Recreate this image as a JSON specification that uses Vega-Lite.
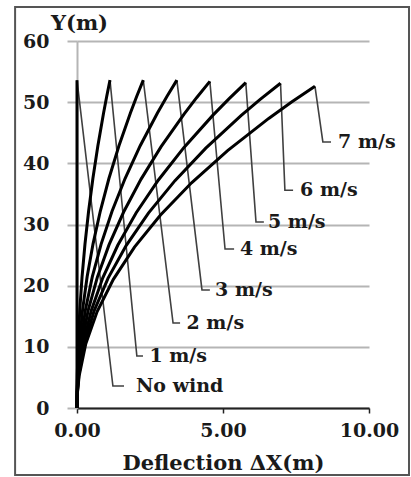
{
  "$schema": "https://vega.github.io/schema/vega-lite/v6.json",
  "width": 292,
  "height": 367,
  "autosize": {"type": "none"},
  "padding": {"left": 77, "top": 41, "right": 42, "bottom": 69},
  "background": "white",
  "config": {"view": {"stroke": null}},
  "datasets": {
    "curves": [
      {"s": "No wind", "x": 0, "y": 0}, {"s": "No wind", "x": 0, "y": 53.6},
      {"s": "1 m/s", "x": 0, "y": 0}, {"s": "1 m/s", "x": 0.002, "y": 2.68}, {"s": "1 m/s", "x": 0.010, "y": 5.36}, {"s": "1 m/s", "x": 0.042, "y": 10.72}, {"s": "1 m/s", "x": 0.096, "y": 16.08}, {"s": "1 m/s", "x": 0.173, "y": 21.44}, {"s": "1 m/s", "x": 0.273, "y": 26.8}, {"s": "1 m/s", "x": 0.397, "y": 32.16}, {"s": "1 m/s", "x": 0.544, "y": 37.52}, {"s": "1 m/s", "x": 0.715, "y": 42.88}, {"s": "1 m/s", "x": 0.910, "y": 48.24}, {"s": "1 m/s", "x": 1.017, "y": 50.92}, {"s": "1 m/s", "x": 1.13, "y": 53.6},
      {"s": "2 m/s", "x": 0, "y": 0}, {"s": "2 m/s", "x": 0.005, "y": 2.68}, {"s": "2 m/s", "x": 0.020, "y": 5.36}, {"s": "2 m/s", "x": 0.084, "y": 10.72}, {"s": "2 m/s", "x": 0.192, "y": 16.08}, {"s": "2 m/s", "x": 0.347, "y": 21.44}, {"s": "2 m/s", "x": 0.548, "y": 26.8}, {"s": "2 m/s", "x": 0.797, "y": 32.16}, {"s": "2 m/s", "x": 1.093, "y": 37.52}, {"s": "2 m/s", "x": 1.437, "y": 42.88}, {"s": "2 m/s", "x": 1.829, "y": 48.24}, {"s": "2 m/s", "x": 2.043, "y": 50.92}, {"s": "2 m/s", "x": 2.27, "y": 53.6},
      {"s": "3 m/s", "x": 0, "y": 0}, {"s": "3 m/s", "x": 0.007, "y": 2.68}, {"s": "3 m/s", "x": 0.030, "y": 5.36}, {"s": "3 m/s", "x": 0.126, "y": 10.72}, {"s": "3 m/s", "x": 0.290, "y": 16.08}, {"s": "3 m/s", "x": 0.523, "y": 21.44}, {"s": "3 m/s", "x": 0.826, "y": 26.8}, {"s": "3 m/s", "x": 1.200, "y": 32.16}, {"s": "3 m/s", "x": 1.646, "y": 37.52}, {"s": "3 m/s", "x": 2.165, "y": 42.88}, {"s": "3 m/s", "x": 2.755, "y": 48.24}, {"s": "3 m/s", "x": 3.079, "y": 50.92}, {"s": "3 m/s", "x": 3.42, "y": 53.6},
      {"s": "4 m/s", "x": 0, "y": 0}, {"s": "4 m/s", "x": 0.010, "y": 2.67}, {"s": "4 m/s", "x": 0.041, "y": 5.34}, {"s": "4 m/s", "x": 0.168, "y": 10.68}, {"s": "4 m/s", "x": 0.385, "y": 16.02}, {"s": "4 m/s", "x": 0.695, "y": 21.36}, {"s": "4 m/s", "x": 1.099, "y": 26.7}, {"s": "4 m/s", "x": 1.597, "y": 32.04}, {"s": "4 m/s", "x": 2.190, "y": 37.38}, {"s": "4 m/s", "x": 2.880, "y": 42.72}, {"s": "4 m/s", "x": 3.666, "y": 48.06}, {"s": "4 m/s", "x": 4.096, "y": 50.73}, {"s": "4 m/s", "x": 4.55, "y": 53.4},
      {"s": "5 m/s", "x": 0, "y": 0}, {"s": "5 m/s", "x": 0.012, "y": 2.66}, {"s": "5 m/s", "x": 0.052, "y": 5.32}, {"s": "5 m/s", "x": 0.213, "y": 10.64}, {"s": "5 m/s", "x": 0.490, "y": 15.96}, {"s": "5 m/s", "x": 0.883, "y": 21.28}, {"s": "5 m/s", "x": 1.396, "y": 26.6}, {"s": "5 m/s", "x": 2.028, "y": 31.92}, {"s": "5 m/s", "x": 2.782, "y": 37.24}, {"s": "5 m/s", "x": 3.658, "y": 42.56}, {"s": "5 m/s", "x": 4.657, "y": 47.88}, {"s": "5 m/s", "x": 5.203, "y": 50.54}, {"s": "5 m/s", "x": 5.78, "y": 53.2},
      {"s": "6 m/s", "x": 0, "y": 0}, {"s": "6 m/s", "x": 0.015, "y": 2.655}, {"s": "6 m/s", "x": 0.062, "y": 5.31}, {"s": "6 m/s", "x": 0.257, "y": 10.62}, {"s": "6 m/s", "x": 0.590, "y": 15.93}, {"s": "6 m/s", "x": 1.065, "y": 21.24}, {"s": "6 m/s", "x": 1.683, "y": 26.55}, {"s": "6 m/s", "x": 2.446, "y": 31.86}, {"s": "6 m/s", "x": 3.355, "y": 37.17}, {"s": "6 m/s", "x": 4.411, "y": 42.48}, {"s": "6 m/s", "x": 5.616, "y": 47.79}, {"s": "6 m/s", "x": 6.274, "y": 50.445}, {"s": "6 m/s", "x": 6.97, "y": 53.1},
      {"s": "7 m/s", "x": 0, "y": 0}, {"s": "7 m/s", "x": 0.018, "y": 2.63}, {"s": "7 m/s", "x": 0.073, "y": 5.26}, {"s": "7 m/s", "x": 0.301, "y": 10.52}, {"s": "7 m/s", "x": 0.690, "y": 15.78}, {"s": "7 m/s", "x": 1.245, "y": 21.04}, {"s": "7 m/s", "x": 1.968, "y": 26.3}, {"s": "7 m/s", "x": 2.860, "y": 31.56}, {"s": "7 m/s", "x": 3.923, "y": 36.82}, {"s": "7 m/s", "x": 5.158, "y": 42.08}, {"s": "7 m/s", "x": 6.566, "y": 47.34}, {"s": "7 m/s", "x": 7.337, "y": 49.97}, {"s": "7 m/s", "x": 8.15, "y": 52.6}
    ],
    "leaders": [
      {"s": "No wind", "x": 0, "y": 53.6}, {"s": "No wind", "x": 1.23, "y": 3.6}, {"s": "No wind", "x": 1.61, "y": 3.6},
      {"s": "1 m/s", "x": 1.13, "y": 53.6}, {"s": "1 m/s", "x": 2.05, "y": 8.5}, {"s": "1 m/s", "x": 2.26, "y": 8.5},
      {"s": "2 m/s", "x": 2.27, "y": 53.6}, {"s": "2 m/s", "x": 3.29, "y": 13.9}, {"s": "2 m/s", "x": 3.53, "y": 13.9},
      {"s": "3 m/s", "x": 3.42, "y": 53.6}, {"s": "3 m/s", "x": 4.28, "y": 19.3}, {"s": "3 m/s", "x": 4.55, "y": 19.3},
      {"s": "4 m/s", "x": 4.55, "y": 53.4}, {"s": "4 m/s", "x": 5.07, "y": 26.0}, {"s": "4 m/s", "x": 5.38, "y": 26.0},
      {"s": "5 m/s", "x": 5.78, "y": 53.2}, {"s": "5 m/s", "x": 6.13, "y": 30.4}, {"s": "5 m/s", "x": 6.40, "y": 30.4},
      {"s": "6 m/s", "x": 6.97, "y": 53.1}, {"s": "6 m/s", "x": 7.12, "y": 35.6}, {"s": "6 m/s", "x": 7.40, "y": 35.6},
      {"s": "7 m/s", "x": 8.15, "y": 52.6}, {"s": "7 m/s", "x": 8.42, "y": 43.5}, {"s": "7 m/s", "x": 8.70, "y": 43.5}
    ],
    "labels": [
      {"s": "No wind", "x": 2.02, "y": 3.6},
      {"s": "1 m/s", "x": 2.48, "y": 8.5},
      {"s": "2 m/s", "x": 3.75, "y": 13.9},
      {"s": "3 m/s", "x": 4.73, "y": 19.3},
      {"s": "4 m/s", "x": 5.58, "y": 26.0},
      {"s": "5 m/s", "x": 6.54, "y": 30.4},
      {"s": "6 m/s", "x": 7.64, "y": 35.6},
      {"s": "7 m/s", "x": 8.94, "y": 43.5}
    ],
    "frame": [{"name": "frame"}]
  },
  "layer": [
    {
      "data": {"name": "frame"},
      "mark": {"type": "rect", "filled": false, "stroke": "#555555", "strokeWidth": 2},
      "encoding": {
        "x": {"datum": -2.12, "type": "quantitative", "scale": {"domain": [0, 10]}},
        "x2": {"datum": 11.37},
        "y": {"datum": 65.55, "type": "quantitative", "scale": {"domain": [0, 60]}},
        "y2": {"datum": -10.95}
      }
    },
    {
      "data": {"name": "leaders"},
      "mark": {"type": "line", "color": "#404040", "strokeWidth": 1.6},
      "encoding": {
        "x": {"field": "x", "type": "quantitative"},
        "y": {"field": "y", "type": "quantitative"},
        "detail": {"field": "s"},
        "order": {"field": "x", "type": "quantitative"}
      }
    },
    {
      "data": {"name": "curves"},
      "mark": {"type": "line", "color": "black", "strokeWidth": 3},
      "encoding": {
        "x": {
          "field": "x", "type": "quantitative",
          "scale": {"domain": [0, 10], "nice": false, "zero": false},
          "axis": {
            "values": [0, 5, 10], "format": ".2f", "grid": false,
            "domainColor": "#222222", "domainWidth": 2,
            "tickColor": "#222222", "tickWidth": 1.5, "tickSize": 5,
            "labelFont": "DejaVu Serif", "labelFontWeight": "bold", "labelFontSize": 19, "labelColor": "#1a1a1a",
            "labelPadding": 8, "labelFlush": false, "labelOverlap": false, "labelBound": false,
            "title": "Deflection ΔX(m)", "titleFont": "DejaVu Serif", "titleFontWeight": "bold", "titleFontSize": 21, "titleColor": "#1a1a1a",
            "titleY": 61, "titleBaseline": "alphabetic"
          }
        },
        "y": {
          "field": "y", "type": "quantitative",
          "scale": {"domain": [0, 60], "nice": false, "zero": false},
          "axis": {
            "values": [0, 10, 20, 30, 40, 50, 60], "grid": true,
            "gridColor": "#b5b5b5", "gridWidth": 2,
            "domainColor": "#b5b5b5", "domainWidth": 2,
            "tickColor": "#b5b5b5", "tickWidth": 2, "tickSize": 10,
            "labelFont": "DejaVu Serif", "labelFontWeight": "bold", "labelFontSize": 19, "labelColor": "#1a1a1a",
            "labelPadding": 18,
            "title": "Y(m)", "titleFont": "DejaVu Serif", "titleFontWeight": "bold", "titleFontSize": 21, "titleColor": "#1a1a1a",
            "titleAngle": 0, "titleAlign": "center", "titleBaseline": "middle", "titleX": 2, "titleY": -18
          }
        },
        "detail": {"field": "s"},
        "order": {"field": "y", "type": "quantitative"}
      }
    },
    {
      "data": {"name": "labels"},
      "mark": {"type": "text", "align": "left", "baseline": "middle", "font": "DejaVu Serif", "fontWeight": "bold", "fontSize": 19, "color": "#1a1a1a"},
      "encoding": {
        "x": {"field": "x", "type": "quantitative"},
        "y": {"field": "y", "type": "quantitative"},
        "text": {"field": "s"}
      }
    }
  ]
}
